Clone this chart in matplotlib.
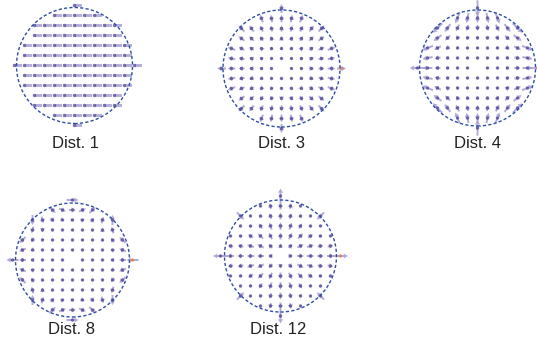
import numpy as np
import matplotlib.pyplot as plt
from matplotlib.patches import Circle

# ---- data -----------------------------------------------------------------
labels = ["Dist. 1", "Dist. 3", "Dist. 4", "Dist. 8", "Dist. 12"]

# displacement fields, expressed on the unit pupil (rho = r / 6 grid steps)
# polynomial coefficients are listed by ascending power of rho
tilt_shift = 0.75                                   # Dist. 1: uniform x shift
mag_coef = [0.0, 0.9]                               # Dist. 3: radial scale
saddle_coef = [0.0, 0.35, 0.0, 1.2]                 # Dist. 4: (cos t, -sin t)
quad_coef = [0.0, 0.0, 0.0, 1.2]                    # Dist. 8: (-cos 2t, sin 2t)
ring_coef = [0.0, 2.6, 0.0, -5.2, 0.0, 2.6]         # Dist. 12: inner radial ring
edge_coef = [0.0, 0.0, 0.0, 0.0, 0.0, 0.0, 1.5]     # Dist. 12: four-fold edge term

grid_steps = 6          # sampling points per half-axis
mask_r2 = 33            # points kept inside i^2 + j^2 <= mask_r2 (plus axis ends)

# ---- layout (pixels from top-left) ------------------------------------------
W, H = 537, 346
centres = [(74.5, 65.5), (281.5, 68.5), (477.5, 68.0), (72.5, 260.0), (280.5, 256.0)]
circle_px = [58.0, 58.5, 58.0, 57.0, 56.0]
label_pos = [(75, 143), (281, 143), (477, 143), (71, 330), (278, 330)]
step_px = 10.0

fig = plt.figure(figsize=(W / 100, H / 100), dpi=100)
fig.patch.set_facecolor("white")


def sample_grid():
    ii, jj = np.meshgrid(np.arange(-grid_steps, grid_steps + 1),
                         np.arange(-grid_steps, grid_steps + 1))
    ii, jj = ii.ravel(), jj.ravel()
    r2 = ii ** 2 + jj ** 2
    axis_end = ((ii == 0) | (jj == 0)) & (r2 == grid_steps ** 2)
    keep = (r2 <= mask_r2) | axis_end
    return ii[keep].astype(float), jj[keep].astype(float)


def poly(coef, rho):
    return sum(c * rho ** k for k, c in enumerate(coef))


def field(kind, x, y):
    r = np.hypot(x, y)
    rho = r / grid_steps
    t = np.arctan2(y, x)
    if kind == 0:
        return np.full_like(x, tilt_shift), np.zeros_like(y)
    if kind == 1:
        f = poly(mag_coef, rho)
        return f * np.cos(t), f * np.sin(t)
    if kind == 2:
        f = poly(saddle_coef, rho)
        return f * np.cos(t), -f * np.sin(t)
    if kind == 3:
        f = poly(quad_coef, rho)
        return -f * np.cos(2 * t), f * np.sin(2 * t)
    f = poly(ring_coef, rho) + poly(edge_coef, rho) * np.cos(4 * t)
    return f * np.cos(t), f * np.sin(t)


xs, ys = sample_grid()
half = 8.0

for k, ((cx, cy), rpx, lab, (lx, ly)) in enumerate(zip(centres, circle_px, labels, label_pos)):
    size = 2 * half * step_px
    ax = fig.add_axes([(cx - half * step_px) / W, (H - cy - half * step_px) / H,
                       size / W, size / H])
    ax.set_xlim(-half, half)
    ax.set_ylim(-half, half)
    ax.set_axis_off()
    ax.patch.set_visible(False)

    u, v = field(k, xs, ys)
    mag = np.hypot(u, v)
    show = mag > 1e-6

    if k == 0:
        ax.quiver(xs[show], ys[show], u[show], v[show], angles="xy",
                  scale_units="xy", scale=1, units="xy", width=0.22,
                  headwidth=1, headlength=0, headaxislength=0,
                  pivot="tail", color="#a29bd3", alpha=0.8, zorder=2)
    else:
        ax.quiver(xs[show], ys[show], u[show], v[show], angles="xy",
                  scale_units="xy", scale=1, units="xy", width=0.2,
                  headwidth=2.6, headlength=2.2, headaxislength=2.0,
                  pivot="mid", color="#a098d2", alpha=0.8, zorder=2)

    dot_col = np.array(["#4a4390"] * len(xs), dtype=object)
    if k > 0:
        dot_col[(xs == grid_steps) & (ys == 0)] = "#e0783a"
    ax.scatter(xs[show], ys[show], s=6, c=list(dot_col[show]), alpha=0.75,
               linewidths=0, zorder=3)

    ax.add_patch(Circle((0, 0), rpx / step_px, fill=False, edgecolor="#2d4ea6",
                        linewidth=1.0, linestyle=(0, (2.3, 1.6)), zorder=4))

    fig.text(lx / W, 1 - ly / H, lab, ha="center", va="center", fontsize=12,
             family=["Liberation Sans", "DejaVu Sans"], color="#222222")

fig.savefig("out.png", dpi=100, facecolor="white")
